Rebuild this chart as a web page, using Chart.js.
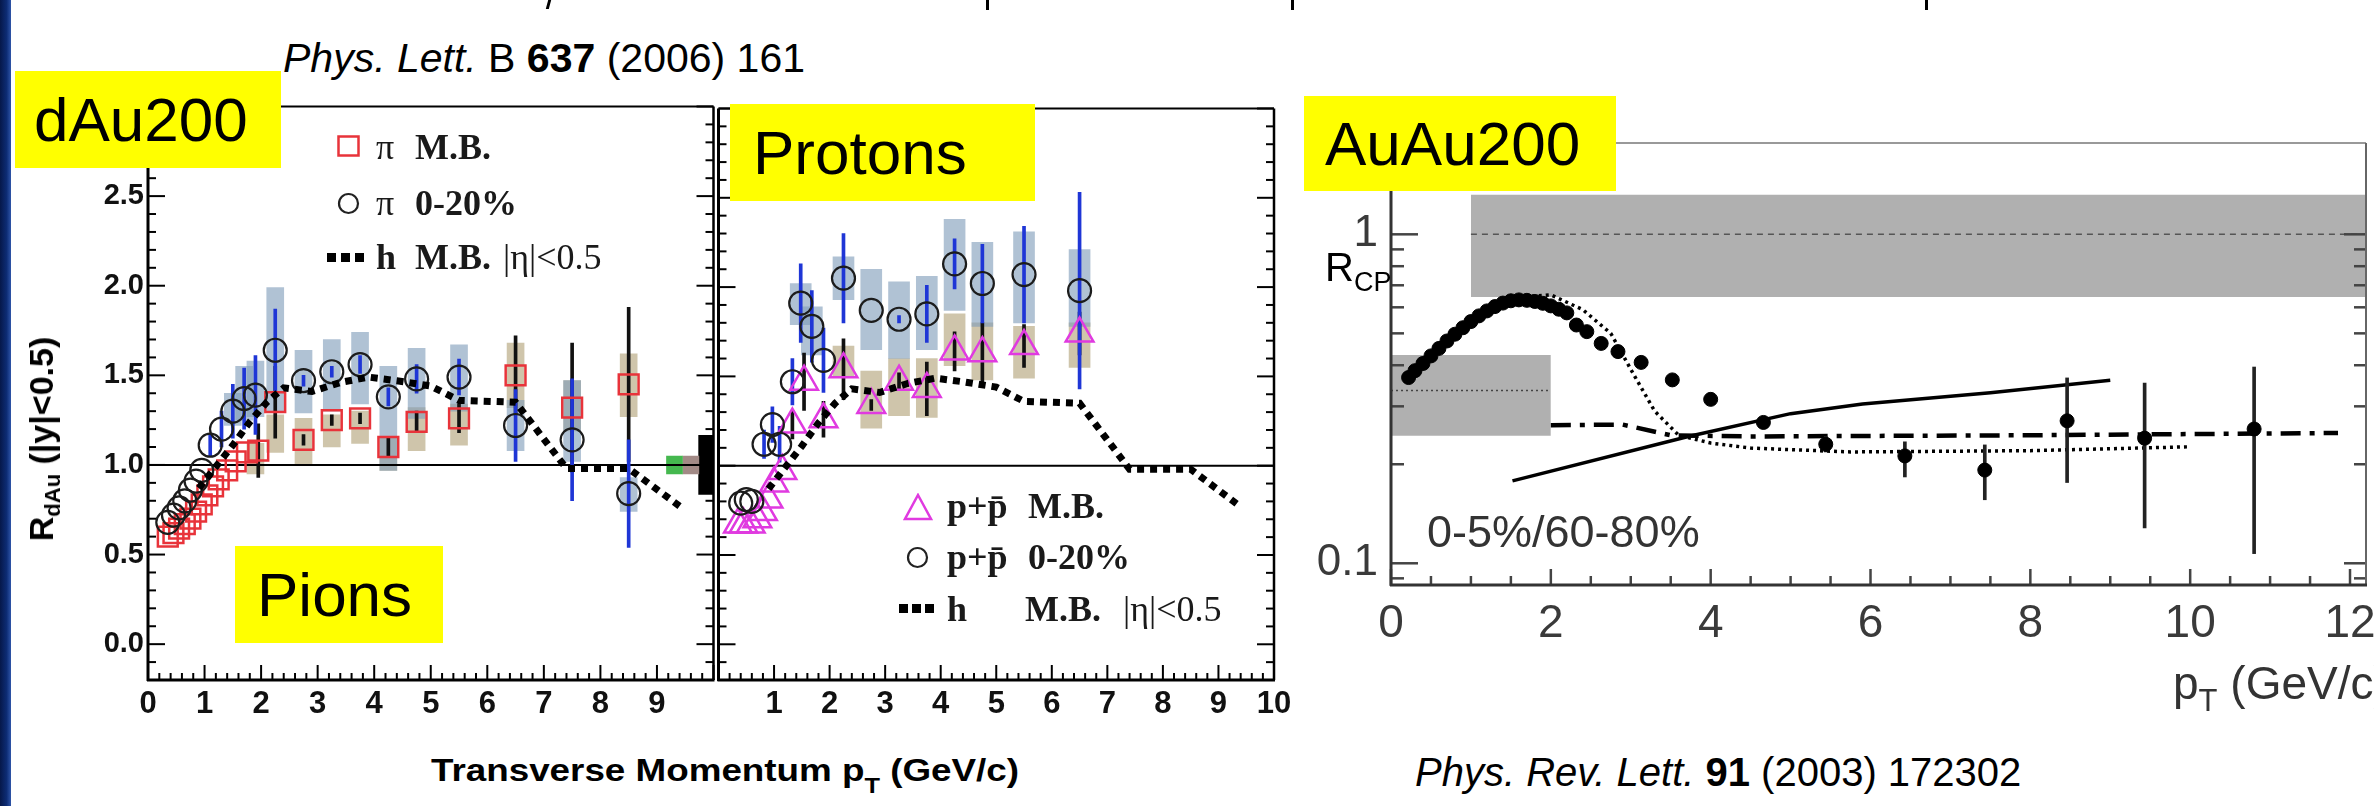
<!DOCTYPE html>
<html>
<head>
<meta charset="utf-8">
<title>R_dAu pions / protons and R_CP</title>
<script src="https://cdn.jsdelivr.net/npm/chart.js@4.4.1/dist/chart.umd.min.js"></script>
<style>
  html, body { margin: 0; padding: 0; }
  body { width: 2374px; height: 806px; position: relative; overflow: hidden; background: #fff;
         font-family: "Liberation Sans", Arial, Helvetica, sans-serif; color: #000; }
  canvas { position: absolute; }
  .abs { position: absolute; white-space: nowrap; z-index: 3; }
  .tag { position: absolute; background: #ffff00; font-size: 62px; line-height: 1; display: flex;
         align-items: center; box-sizing: border-box; z-index: 4; }
  .leg { position: absolute; white-space: nowrap; z-index: 3; font-family: "Liberation Serif", "Times New Roman", serif;
         font-weight: bold; font-size: 36px; line-height: 36px; color: #1a1a1a; }
  .dot { position: absolute; width: 9px; height: 9px; background: #000; z-index: 3; }
  sub { line-height: 0; }
</style>
</head>
<body>

<!-- slide decoration -->
<div class="abs" style="left:0;top:0;width:11px;height:806px;background:linear-gradient(to right,#06184a 0,#0d2c74 60%,#2f55a8 100%);z-index:5"></div>
<div class="abs" style="left:547px;top:0;width:3px;height:9px;background:#000;transform:skewX(-15deg)"></div>
<div class="abs" style="left:986px;top:0;width:3px;height:10px;background:#000"></div>
<div class="abs" style="left:1291px;top:0;width:3px;height:10px;background:#000"></div>
<div class="abs" style="left:1925px;top:0;width:3px;height:10px;background:#000"></div>

<div class="abs" style="left:283px;top:38px;font-size:41px;line-height:41px"><i>Phys. Lett.</i> B <b>637</b> (2006) 161</div>
<div class="abs" style="left:1415px;top:752px;font-size:40px;line-height:40px"><i>Phys. Rev. Lett.</i> <b>91</b> (2003) 172302</div>

<canvas id="pions" width="730" height="640" style="left:0;top:90px"></canvas>
<canvas id="protons" width="600" height="640" style="left:700px;top:90px"></canvas>
<canvas id="rcp" width="1094" height="570" style="left:1280px;top:90px"></canvas>

<!-- yellow labels -->
<div class="tag" style="left:15px;top:71px;width:266px;height:97px;padding-left:19px">dAu200</div>
<div class="tag" style="left:235px;top:546px;width:208px;height:97px;padding-left:22px">Pions</div>
<div class="tag" style="left:730px;top:104px;width:305px;height:97px;padding-left:23px">Protons</div>
<div class="tag" style="left:1304px;top:96px;width:312px;height:95px;padding-left:21px">AuAu200</div>

<!-- axis titles -->
<div class="abs" style="left:41px;top:439px;transform:translate(-50%,-50%) rotate(-90deg);font-weight:bold;font-size:34px;line-height:34px">R<sub style="font-size:22px;vertical-align:-7px">dAu</sub> (|y|&lt;0.5)</div>
<div class="abs" style="left:725px;top:770px;transform:translate(-50%,-50%) scaleX(1.15);font-weight:bold;font-size:32px;line-height:32px">Transverse Momentum p<sub style="font-size:22px;vertical-align:-12px">T</sub> (GeV/c)</div>
<div class="abs" style="left:1325px;top:247px;font-size:40px;line-height:40px">R<sub style="font-size:27px;vertical-align:-10px">CP</sub></div>
<div class="abs" style="left:1427px;top:509px;font-size:45px;line-height:45px;color:#333">0-5%/60-80%</div>
<div class="abs" style="left:2173px;top:660px;font-size:46px;line-height:46px;color:#333">p<sub style="font-size:31px;vertical-align:-12px">T</sub> (GeV/c)</div>

<!-- pion legend -->
<svg class="abs" style="left:337px;top:135px" width="23" height="22"><rect x="1.5" y="1.5" width="20" height="19" fill="none" stroke="#e8333a" stroke-width="2.5"/></svg>
<svg class="abs" style="left:337px;top:192px" width="23" height="23"><circle cx="11.5" cy="11.5" r="9.5" fill="none" stroke="#222" stroke-width="2.2"/></svg>
<div class="dot" style="left:327px;top:253px"></div><div class="dot" style="left:341px;top:253px"></div><div class="dot" style="left:355px;top:253px"></div>
<div class="leg" style="left:376px;top:129px;font-weight:normal">π</div><div class="leg" style="left:415px;top:129px">M.B.</div>
<div class="leg" style="left:376px;top:185px;font-weight:normal">π</div><div class="leg" style="left:415px;top:185px">0-20%</div>
<div class="leg" style="left:376px;top:239px">h</div><div class="leg" style="left:415px;top:239px">M.B.</div><div class="leg" style="left:503px;top:239px;font-weight:normal">|η|&lt;0.5</div>

<!-- proton legend -->
<svg class="abs" style="left:903px;top:493px" width="30" height="28"><polygon points="15,2 28,26 2,26" fill="none" stroke="#e03ae0" stroke-width="2.5"/></svg>
<svg class="abs" style="left:906px;top:546px" width="23" height="23"><circle cx="11.5" cy="11.5" r="9.5" fill="none" stroke="#222" stroke-width="2.2"/></svg>
<div class="dot" style="left:899px;top:604px"></div><div class="dot" style="left:912px;top:604px"></div><div class="dot" style="left:925px;top:604px"></div>
<div class="leg" style="left:947px;top:488px">p+p&#772;</div><div class="leg" style="left:1028px;top:488px">M.B.</div>
<div class="leg" style="left:947px;top:539px">p+p&#772;</div><div class="leg" style="left:1028px;top:539px">0-20%</div>
<div class="leg" style="left:947px;top:591px">h</div><div class="leg" style="left:1025px;top:591px">M.B.</div><div class="leg" style="left:1123px;top:591px;font-weight:normal">|η|&lt;0.5</div>

<script>
// ---------- dAu 200 GeV, pions ----------
const pionMbPt   = [0.35, 0.45, 0.55, 0.65, 0.75, 0.85, 0.95, 1.05, 1.15, 1.25, 1.4, 1.55, 1.75, 1.95, 2.25, 2.75, 3.25, 3.75, 4.25, 4.75, 5.5, 6.5, 7.5, 8.5];
const pionMbR    = [0.60, 0.62, 0.645, 0.67, 0.70, 0.74, 0.78, 0.83, 0.88, 0.92, 0.97, 1.02, 1.07, 1.08, 1.35, 1.14, 1.25, 1.26, 1.10, 1.24, 1.26, 1.50, 1.32, 1.45];
const pionMbErr  = [0, 0, 0, 0, 0, 0, 0, 0, 0, 0, 0, 0, 0, 0.15, 0.2, 0.03, 0.03, 0.03, 0.05, 0.06, 0.08, 0.22, 0.36, 0.43];

const pionCentPt  = [0.35, 0.45, 0.55, 0.65, 0.75, 0.85, 0.95, 1.1, 1.3, 1.5, 1.7, 1.9, 2.25, 2.75, 3.25, 3.75, 4.25, 4.75, 5.5, 6.5, 7.5, 8.5];
const pionCentR   = [0.68, 0.72, 0.76, 0.80, 0.86, 0.91, 0.97, 1.11, 1.20, 1.30, 1.37, 1.39, 1.64, 1.47, 1.52, 1.56, 1.38, 1.48, 1.49, 1.22, 1.14, 0.84];
const pionCentErr = [0, 0, 0, 0, 0, 0, 0, 0.06, 0.1, 0.15, 0.17, 0.22, 0.23, 0.03, 0.03, 0.05, 0.05, 0.08, 0.1, 0.2, 0.34, 0.3];

// systematic boxes
const pionCentBoxPt = [1.5, 1.7, 1.9, 2.25, 2.75, 3.25, 3.75, 4.25, 4.75, 5.5, 6.5, 7.5, 8.5];
const pionCentBoxLo = [1.22, 1.25, 1.27, 1.30, 1.29, 1.30, 1.34, 0.97, 1.26, 1.30, 1.08, 1.02, 0.74];
const pionCentBoxHi = [1.40, 1.55, 1.58, 1.99, 1.64, 1.70, 1.74, 1.55, 1.65, 1.67, 1.36, 1.47, 0.93];
const pionMbBoxPt = [1.9, 2.25, 2.75, 3.25, 3.75, 4.25, 4.75, 5.5, 6.5, 7.5, 8.5];
const pionMbBoxLo = [0.95, 1.07, 1.00, 1.10, 1.12, 0.97, 1.08, 1.11, 1.32, 1.19, 1.27];
const pionMbBoxHi = [1.12, 1.28, 1.26, 1.28, 1.30, 1.15, 1.32, 1.34, 1.68, 1.47, 1.62];

// normalisation boxes at the right edge of the pion panel
const normPt = [9.31, 9.6, 9.87];
const normLo = [0.95, 0.95, 0.835];
const normHi = [1.05, 1.05, 1.165];

// ---------- dAu 200 GeV, protons ----------
const protonMbPt  = [0.35, 0.45, 0.58, 0.7, 0.8, 0.9, 1.0, 1.15, 1.33, 1.54, 1.89, 2.25, 2.75, 3.25, 3.75, 4.25, 4.75, 5.5, 6.5];
const protonMbR   = [0.67, 0.67, 0.67, 0.70, 0.74, 0.81, 0.90, 0.97, 1.23, 1.47, 1.26, 1.54, 1.34, 1.47, 1.43, 1.64, 1.63, 1.67, 1.74];
const protonMbErr = [0, 0, 0, 0, 0, 0, 0, 0, 0.08, 0.16, 0.1, 0.17, 0.03, 0.05, 0.15, 0.11, 0.17, 0.12, 0.12];

const protonCentPt  = [0.4, 0.5, 0.6, 0.82, 0.97, 1.1, 1.33, 1.48, 1.68, 1.89, 2.25, 2.75, 3.25, 3.75, 4.25, 4.75, 5.5, 6.5];
const protonCentR   = [0.79, 0.81, 0.80, 1.12, 1.23, 1.12, 1.47, 1.91, 1.78, 1.59, 2.05, 1.87, 1.82, 1.85, 2.13, 2.02, 2.07, 1.98];
const protonCentErr = [0, 0, 0, 0.08, 0.1, 0.1, 0.13, 0.22, 0.2, 0.18, 0.25, 0, 0.02, 0.16, 0.14, 0.22, 0.27, 0.55];

const protonCentBoxPt = [1.48, 1.68, 2.25, 2.75, 3.25, 3.75, 4.25, 4.75, 5.5, 6.5];
const protonCentBoxLo = [1.79, 1.62, 1.93, 1.65, 1.60, 1.65, 1.87, 1.78, 1.80, 1.78];
const protonCentBoxHi = [2.02, 1.89, 2.17, 2.10, 2.03, 2.06, 2.38, 2.25, 2.31, 2.21];
const protonMbBoxPt = [2.25, 2.75, 3.25, 3.75, 4.25, 4.75, 5.5, 6.5];
const protonMbBoxLo = [1.50, 1.21, 1.28, 1.27, 1.56, 1.48, 1.49, 1.55];
const protonMbBoxHi = [1.67, 1.53, 1.60, 1.60, 1.85, 1.80, 1.78, 1.80];

// charged hadrons M.B. |eta|<0.5 (same curve in both panels)
const hadronPt = [0.9, 1.2, 1.5, 1.8, 2.1, 2.4, 2.9, 3.4, 3.9, 4.4, 5.0, 5.5, 6.5, 7.4, 8.5, 9.4];
const hadronR  = [0.87, 0.99, 1.11, 1.24, 1.35, 1.43, 1.41, 1.46, 1.49, 1.47, 1.44, 1.36, 1.35, 0.98, 0.98, 0.77];

const unityPt = [0, 10];
const unityR  = [1, 1];

const rdauTicksY = [0, 0.5, 1, 1.5, 2, 2.5];
const pionTicksX = [0, 1, 2, 3, 4, 5, 6, 7, 8, 9];
const protonTicksX = [1, 2, 3, 4, 5, 6, 7, 8, 9, 10];

// ---------- AuAu 200 GeV R_CP ----------
const rcpPt = [0.22, 0.3, 0.4, 0.5, 0.6, 0.7, 0.8, 0.9, 1.0, 1.1, 1.2, 1.3, 1.4, 1.5, 1.6, 1.7, 1.8, 1.9, 2.0, 2.1, 2.2,
               2.32, 2.45, 2.63, 2.84, 3.13, 3.52, 4.0, 4.66, 5.44, 6.43, 7.43, 8.46, 9.43, 10.8];
const rcpVal = [0.367, 0.385, 0.405, 0.427, 0.45, 0.474, 0.497, 0.52, 0.543, 0.565, 0.585, 0.603, 0.618, 0.628, 0.632, 0.630, 0.625, 0.617, 0.606, 0.592, 0.577,
                0.53, 0.506, 0.466, 0.44, 0.408, 0.361, 0.315, 0.268, 0.23, 0.212, 0.192, 0.271, 0.24, 0.256];
const rcpErrPt = [5.44, 6.43, 7.43, 8.46, 9.43, 10.8];
const rcpErrLo = [0.218, 0.183, 0.156, 0.176, 0.128, 0.107];
const rcpErrHi = [0.243, 0.234, 0.229, 0.366, 0.353, 0.395];

const rcpDotPt = [1.5, 2.0, 2.4, 2.75, 3.05, 3.3, 3.6, 4.0, 4.5, 5.75, 8.0, 10.0];
const rcpDotR  = [0.64, 0.655, 0.59, 0.50, 0.37, 0.29, 0.245, 0.232, 0.224, 0.218, 0.22, 0.226];
const rcpSolidPt = [1.52, 3.72, 5.0, 5.9, 7.5, 9.0];
const rcpSolidR  = [0.178, 0.243, 0.285, 0.305, 0.33, 0.36];
const rcpDashPt = [2.0, 2.9, 3.5, 4.5, 8.0, 11.85];
const rcpDashR  = [0.263, 0.264, 0.245, 0.243, 0.245, 0.249];

// grey bands: Npart / Nbin scaling uncertainties
const bandBinPt = [1.0, 12.2];
const bandBinLo = [0.645, 0.645];
const bandBinHi = [1.32, 1.32];
const bandBinMid = [1, 1];
const bandPartPt = [0, 2];
const bandPartLo = [0.244, 0.244];
const bandPartHi = [0.43, 0.43];
const bandPartMid = [0.335, 0.335];

const rcpTicksX = [0, 2, 4, 6, 8, 10, 12];
const rcpTicksY = [0.1, 1];

// ---------- helpers ----------
const SANS = '"Liberation Sans", Arial, Helvetica, sans-serif';
const pts = (xs, ys) => xs.map((x, i) => ({ x, y: ys[i] }));
const spans = (xs, lo, hi) => xs.map((x, i) => ({ x, y: [lo[i], hi[i]] }));
const errs = (xs, ys, e) => xs.map((x, i) => ({ x, y: [ys[i] - e[i], ys[i] + e[i]] })).filter((d, i) => e[i] > 0);

const boxSet = (data, color, thick, order) => ({
    type: 'bar', data, backgroundColor: color, borderWidth: 0, barThickness: thick, grouped: false, order
});
const markerSet = (data, style, r, color, order, width = 2.5, fill = 'rgba(0,0,0,0)') => ({
    type: 'scatter', data, showLine: false, pointStyle: style, pointRadius: r,
    pointBorderColor: color, pointBackgroundColor: fill, pointBorderWidth: width, order
});
const lineSet = (data, color, width, dash, order, extra = {}) => Object.assign({
    type: 'line', data, borderColor: color, borderWidth: width, borderDash: dash, borderCapStyle: 'butt',
    pointRadius: 0, fill: false, tension: 0, order
}, extra);

function linTicks(min, max, minor, major) {
    const out = [];
    for (let k = Math.ceil(min / minor - 1e-6); k * minor <= max + 1e-6; k++) {
        const v = k * minor;
        const r = v / major;
        out.push({ v, major: Math.abs(r - Math.round(r)) < 1e-6 });
    }
    return out;
}
function logTicks(min, max) {
    const out = [];
    for (let e = Math.floor(Math.log10(min)); e <= Math.ceil(Math.log10(max)); e++) {
        for (let d = 1; d < 10; d++) {
            const v = d * Math.pow(10, e);
            if (v >= min && v <= max) out.push({ v, major: d === 1 });
        }
    }
    return out;
}

// ROOT-style inward ticks and frame
const rootAxes = {
    id: 'rootAxes',
    afterDatasetsDraw(chart, args, o) {
        const { ctx, chartArea: a } = chart;
        const xs = chart.scales.x, ys = chart.scales.y;
        const seg = (x1, y1, x2, y2, w, c) => {
            ctx.lineWidth = w; ctx.strokeStyle = c;
            ctx.beginPath(); ctx.moveTo(x1, y1); ctx.lineTo(x2, y2); ctx.stroke();
        };
        ctx.save();
        ctx.lineCap = 'butt';
        linTicks(xs.min, xs.max, o.xMinor, o.xMajor).forEach(t => {
            const p = xs.getPixelForValue(t.v);
            seg(p, a.bottom, p, a.bottom - (t.major ? o.xLen[0] : o.xLen[1]), o.tickWidth, o.tickColor);
        });
        const yt = o.log ? logTicks(ys.min, ys.max) : linTicks(ys.min, ys.max, o.yMinor, o.yMajor);
        yt.forEach(t => {
            const p = ys.getPixelForValue(t.v);
            if (o.yLeft) seg(a.left, p, a.left + (t.major ? o.yLeft[0] : o.yLeft[1]), p, o.tickWidth, o.tickColor);
            if (o.yRight) seg(a.right, p, a.right - (t.major ? o.yRight[0] : o.yRight[1]), p, o.tickWidth, o.tickColor);
        });
        const f = o.frame;
        if (f.top) seg(a.left, a.top, a.right, a.top, f.top[0], f.top[1]);
        if (f.right) seg(a.right, a.top, a.right, a.bottom, f.right[0], f.right[1]);
        if (f.left) seg(a.left, a.top, a.left, a.bottom + 1, f.left[0], f.left[1]);
        if (f.bottom) seg(a.left - 1, a.bottom, a.right + 1, a.bottom, f.bottom[0], f.bottom[1]);
        ctx.restore();
    }
};

function fixedX(min, max, ticks, height, font, color, padding) {
    return {
        type: 'linear', min, max, bounds: 'data', offset: false,
        grid: { display: false, drawTicks: false }, border: { display: false },
        ticks: { padding, color, font, maxRotation: 0, autoSkip: false, callback: v => String(v) },
        afterBuildTicks: s => { s.ticks = ticks.map(value => ({ value })); },
        afterFit: s => { s.height = height; s.paddingLeft = 0; s.paddingRight = 0; }
    };
}
function fixedY(type, min, max, ticks, width, font, color, padding, fmt, display = true) {
    return {
        type, min, max, bounds: 'data', display,
        grid: { display: false, drawTicks: false }, border: { display: false },
        ticks: { padding, color, font, autoSkip: false, callback: fmt },
        afterBuildTicks: s => { s.ticks = ticks.map(value => ({ value })); },
        afterFit: s => { s.width = width; s.paddingTop = 0; s.paddingBottom = 0; }
    };
}
function baseOptions(padding, scales, axes) {
    return {
        responsive: false, animation: false, events: [], devicePixelRatio: 1,
        layout: { padding },
        plugins: { legend: { display: false }, tooltip: { enabled: false }, rootAxes: axes },
        scales
    };
}

const RED = '#e8333a', MAGENTA = '#e03ae0', CIRC = '#1c1c1c', BLUE = '#1f36d6', BLACK = '#111';
const BOX_BLUE = 'rgba(128,156,186,0.62)', BOX_TAN = 'rgba(178,162,120,0.62)';
const tickFontX = { family: SANS, weight: 'bold', size: 31 };
const tickFontY = { family: SANS, weight: 'bold', size: 29 };
const dAuAxes = {
    xMinor: 0.2, xMajor: 1, xLen: [15, 7], yMinor: 0.1, yMajor: 0.5,
    yLeft: [17, 8], yRight: [17, 8], tickWidth: 2, tickColor: '#000',
    frame: { top: [2, '#000'], right: [2.5, '#000'], left: [3, '#000'], bottom: [3, '#000'] }
};

// ---------- pions ----------
new Chart(document.getElementById('pions'), {
    type: 'scatter',
    data: { datasets: [
        lineSet(pts(hadronPt, hadronR), '#000', 7, [7, 6], 0),
        markerSet(pts(pionCentPt, pionCentR), 'circle', 11.5, CIRC, 1, 2.2),
        markerSet(pts(pionMbPt, pionMbR), 'rect', 14, RED, 2),
        boxSet(errs(pionCentPt, pionCentR, pionCentErr), BLUE, 3, 3),
        boxSet(errs(pionMbPt, pionMbR, pionMbErr), BLACK, 3, 4),
        lineSet(pts(unityPt, unityR), '#000', 2, [], 6),
        boxSet(spans(normPt.slice(0, 1), normLo.slice(0, 1), normHi.slice(0, 1)), '#45b84f', 16, 7),
        boxSet(spans(normPt.slice(1, 2), normLo.slice(1, 2), normHi.slice(1, 2)), '#a28a86', 16, 7),
        boxSet(spans(normPt.slice(2), normLo.slice(2), normHi.slice(2)), '#000', 15, 7),
        boxSet(spans(pionCentBoxPt, pionCentBoxLo, pionCentBoxHi), BOX_BLUE, 17, 8),
        boxSet(spans(pionMbBoxPt, pionMbBoxLo, pionMbBoxHi), BOX_TAN, 17, 9)
    ] },
    options: baseOptions({ left: 0, top: 12, right: 15, bottom: 0 }, {
        x: fixedX(0, 10, pionTicksX, 50, tickFontX, '#111', 6),
        y: fixedY('linear', -0.2, 3.0, rdauTicksY, 148, tickFontY, '#111', 4, v => v.toFixed(1))
    }, dAuAxes),
    plugins: [rootAxes]
});

// ---------- protons ----------
new Chart(document.getElementById('protons'), {
    type: 'scatter',
    data: { datasets: [
        lineSet(pts(hadronPt, hadronR), '#000', 7, [7, 6], 0),
        markerSet(pts(protonCentPt, protonCentR), 'circle', 11.5, CIRC, 1, 2.2),
        markerSet(pts(protonMbPt, protonMbR), 'triangle', 16, MAGENTA, 2),
        boxSet(errs(protonCentPt, protonCentR, protonCentErr), BLUE, 3, 3),
        boxSet(errs(protonMbPt, protonMbR, protonMbErr), BLACK, 3, 4),
        lineSet(pts(unityPt, unityR), '#000', 2, [], 6),
        boxSet(spans(protonCentBoxPt, protonCentBoxLo, protonCentBoxHi), BOX_BLUE, 21, 8),
        boxSet(spans(protonMbBoxPt, protonMbBoxLo, protonMbBoxHi), BOX_TAN, 21, 9)
    ] },
    options: baseOptions({ left: 15, top: 12, right: 26, bottom: 0 }, {
        x: fixedX(0, 10, protonTicksX, 50, tickFontX, '#111', 6),
        y: fixedY('linear', -0.2, 3.0, rdauTicksY, 0, tickFontY, '#111', 4, v => v.toFixed(1), false)
    }, dAuAxes),
    plugins: [rootAxes]
});

// ---------- AuAu R_CP ----------
const rcpFont = { family: SANS, size: 46 };
new Chart(document.getElementById('rcp'), {
    type: 'scatter',
    data: { datasets: [
        markerSet(pts(rcpPt, rcpVal), 'circle', 7, '#000', 1, 1, '#000'),
        boxSet(spans(rcpErrPt, rcpErrLo, rcpErrHi), '#222', 3, 2),
        lineSet(pts(rcpSolidPt, rcpSolidR), '#000', 3.5, [], 4),
        lineSet(pts(rcpDashPt, rcpDashR), '#000', 4.5, [20, 9, 5, 9], 4),
        lineSet(pts(rcpDotPt, rcpDotR), '#000', 3.5, [3, 4], 4),
        lineSet(pts(bandBinPt, bandBinMid), '#555', 1.5, [6, 5], 8),
        lineSet(pts(bandPartPt, bandPartMid), '#444', 1.5, [2, 3], 8),
        lineSet(pts(bandBinPt, bandBinHi), 'rgba(0,0,0,0)', 0, [], 10, { fill: '+1', backgroundColor: '#b0b0b0' }),
        lineSet(pts(bandBinPt, bandBinLo), 'rgba(0,0,0,0)', 0, [], 10),
        lineSet(pts(bandPartPt, bandPartHi), 'rgba(0,0,0,0)', 0, [], 10, { fill: '+1', backgroundColor: '#b0b0b0' }),
        lineSet(pts(bandPartPt, bandPartLo), 'rgba(0,0,0,0)', 0, [], 10)
    ] },
    options: baseOptions({ left: 0, top: 53, right: 2, bottom: 0 }, {
        x: fixedX(0, 12.2, rcpTicksX, 75, rcpFont, '#3a3a3a', 12),
        y: fixedY('logarithmic', 0.0859, 1.895, rcpTicksY, 111, { family: SANS, size: 44 }, '#3a3a3a', 13, v => String(v))
    }, {
        xMinor: 0.5, xMajor: 2, xLen: [16, 9], log: true,
        yLeft: [27, 13], yRight: [22, 12], tickWidth: 2.5, tickColor: '#444',
        frame: { top: [2, '#999'], right: [2, '#666'], left: [3, '#333'], bottom: [3, '#333'] }
    }),
    plugins: [rootAxes]
});
</script>
</body>
</html>
